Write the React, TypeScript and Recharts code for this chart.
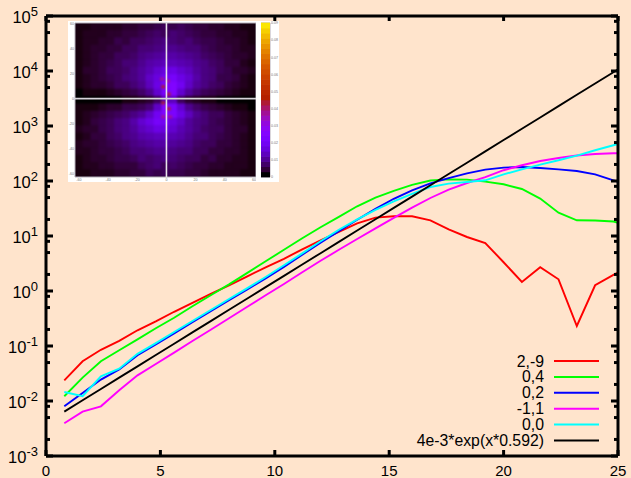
import React from "react";
import {
  LineChart, Line, XAxis, YAxis, Legend, ScatterChart, Scatter, ReferenceLine, ReferenceArea,
} from "recharts";

// ---- main chart data ----
const xs = [0.8,1.6,2.4,3.2,4,4.8,5.6,6.4,7.2,8,8.8,9.6,10.4,11.2,12,12.8,13.6,14.4,15.2,16,16.8,17.6,18.4,19.2,20,20.8,21.6,22.4,23.2,24,24.8,25.6];
const red = [0.0238,0.0527,0.0853,0.124,0.193,0.281,0.419,0.608,0.889,1.27,1.85,2.7,3.85,5.73,8.35,11.9,17,21.6,22.8,22.8,19.3,13.2,9.59,7.46,3.33,1.46,2.7,1.63,0.231,1.27,1.96,2.93];
const green = [0.0122,0.0266,0.0527,0.0835,0.132,0.21,0.326,0.527,0.835,1.32,2.14,3.47,5.61,9.08,14.4,22.3,34.7,50,66,85,102,107,106,97.5,87.1,71.6,47.9,26.6,19.3,19.1,18.3,15];
const blue = [0.00801,0.01397,0.0245,0.0375,0.0678,0.107,0.17,0.27,0.428,0.678,1.07,1.7,2.75,4.55,7.52,12.2,19.7,31.2,47.5,67.8,90.8,113,138,161,175,180,172,163,152,132,103,80];
const magenta = [0.00394,0.00641,0.00801,0.0157,0.0293,0.0471,0.0759,0.123,0.197,0.319,0.516,0.835,1.34,2.19,3.54,5.61,8.81,13.8,21.4,32.8,49.1,69.8,92,118,157,193,231,262,290,310,319,323];
const cyan = [0.0146,0.0122,0.0281,0.0388,0.0721,0.113,0.18,0.285,0.452,0.716,1.13,1.8,2.93,4.84,8.01,13,20.1,29.9,42.7,58.5,77.8,89.7,95.9,103,132,163,199,238,290,362,446,550];
const fit = [0.00642,0.0103,0.01656,0.0266,0.0427,0.0686,0.11,0.177,0.284,0.456,0.732,1.176,1.888,3.03,4.87,7.82,12.56,20.2,32.4,52,83.5,134,215,346,555,891,1431,2298,3690,5926,9516,15280];

const xTicks = [0,5,10,15,20,25];
const yMajor = [1e-3,1e-2,1e-1,1e0,1e1,1e2,1e3,1e4,1e5];
const yExponents = [-3,-2,-1,0,1,2,3,4,5];
const yMinor = [2e-3,5e-3,8e-3,2e-2,5e-2,8e-2,0.2,0.5,0.8,2,5,8,20,50,80,200,500,800,2e3,5e3,8e3,2e4,5e4,8e4];
const yTicks = [...yMajor, ...yMinor];

const seriesNames = ["2,-9","0,4","0,2","-1,1","0,0","4e-3*exp(x*0.592)"];
const seriesColors = ["#ff0000","#00ff00","#0000ff","#ff00ff","#00ffff","#000000"];
const seriesKeys = ["red","green","blue","magenta","cyan","fit"];

const table = xs.map((x, i) => ({
  x, red: red[i], green: green[i], blue: blue[i], magenta: magenta[i], cyan: cyan[i], fit: fit[i],
}));

// ---- inset: coarse reading of the heat map, in units of 0.00085 ----
const heatRows = [
  [1,1,2,2,2,2,3,3,4,4,5,6,5,6,5,4,4,3,3,2,2,1,1],
  [1,2,2,2,3,3,4,4,5,6,7,6,8,7,6,5,4,4,3,3,2,2,1],
  [1,2,2,3,3,5,4,6,6,7,8,9,8,7,8,6,5,5,4,3,3,2,1],
  [1,2,3,3,4,4,6,6,8,8,9,10,10,9,8,8,6,5,4,4,3,2,2],
  [1,2,3,4,4,6,6,7,9,10,11,12,12,11,10,9,7,6,5,4,3,3,2],
  [1,2,3,4,5,6,8,8,10,12,13,14,14,13,12,10,9,7,6,4,4,2,1],
  [1,3,3,4,6,6,7,9,11,13,16,18,19,16,14,11,9,8,6,5,3,3,2],
  [1,2,3,4,5,6,8,9,11,15,18,21,23,19,16,12,9,8,5,5,4,2,1],
  [1,2,3,3,4,6,6,8,10,14,19,25,27,21,15,11,9,7,6,4,3,2,1],
  [0,1,1,1,2,3,4,5,7,10,16,24,27,16,11,8,6,5,4,3,2,1,1],
  [0,0,0,0,0,0,1,1,2,3,6,14,14,6,3,2,1,1,0,0,0,0,0],
  [1,1,1,2,3,3,5,5,6,8,15,27,24,16,10,7,5,4,3,2,1,1,0],
  [1,2,3,4,5,6,7,9,11,15,21,27,25,19,14,10,8,6,6,4,3,2,1],
  [1,2,4,5,6,8,9,12,16,19,23,22,18,15,11,9,8,6,5,4,3,2,1],
  [2,3,3,5,6,8,9,11,14,16,19,18,16,13,11,9,7,6,6,4,3,3,1],
  [1,2,4,4,6,7,9,10,12,13,14,14,13,12,10,8,8,6,5,4,3,2,1],
  [2,3,3,4,5,6,7,9,10,11,12,12,11,10,9,7,6,6,4,4,3,2,1],
  [2,2,3,4,4,5,6,8,8,9,10,10,9,8,8,6,6,4,4,3,3,2,1],
  [1,2,3,3,4,5,5,6,8,7,8,9,8,7,6,6,4,5,3,3,2,2,1],
  [1,2,2,3,3,4,4,4,6,7,8,6,7,6,5,4,4,3,3,2,2,2,1],
  [1,1,2,2,2,3,3,4,4,6,5,6,5,5,4,4,3,2,2,2,2,1,1],
];
const heatCells = heatRows.flatMap((row, r) => row.map((v, c) => ({ c, r, v: v * 0.00085 })));
// small hot spots next to the centre, in the same column/row units
const specks = [
  { c: 10.55, r: 7.14, v: 0.036 }, { c: 11.3, r: 7.4, v: 0.036 }, { c: 10.7, r: 8.2, v: 0.042 }, { c: 11.4, r: 9.2, v: 0.042 },
  { c: 10.7, r: 10.4, v: 0.042 }, { c: 11.4, r: 11.2, v: 0.042 }, { c: 10.7, r: 12.3, v: 0.036 }, { c: 11.6, r: 12.3, v: 0.036 },
];
const insetXTicks = [-60,-40,-20,0,20,40,60];
const insetYTicks = [60,40,20,0,-20,-40,-60];
const barLevels = [0,0.003,0.006,0.009,0.012,0.015,0.018,0.021,0.024,0.027,0.03,0.033,0.036,0.039,0.042,0.045,0.048,0.051,0.054,0.057,0.06,0.063,0.066,0.069,0.072,0.075,0.078,0.081,0.084,0.087];
const barTicks = [0,0.01,0.02,0.03,0.04,0.05,0.06,0.07,0.08,0.09];
const barCells = barLevels.map((v) => ({ x: 0, y: v + 0.0015, v }));

// gnuplot's traditional pm3d palette over the 0..0.09 colour range
const palette = (v: number) => {
  const t = Math.max(0, Math.min(1, v / 0.09));
  const ch = (u: number) => Math.round(255 * Math.max(0, Math.min(1, u)));
  return `rgb(${ch(Math.sqrt(t))},${ch(t * t * t)},${ch(Math.sin(2 * Math.PI * t))})`;
};

const FONT = "'Liberation Sans', Arial, sans-serif";

const majorSet = new Set(yMajor);

const LeftTick = (p: any) => {
  const v = p.payload.value;
  const major = majorSet.has(v);
  return (
    <g>
      <line x1={p.x} x2={p.x + (major ? 7 : 4)} y1={p.y} y2={p.y} stroke="#000" strokeWidth={3} />
      {major && (
        <text x={p.x - 8} y={p.y + 7} textAnchor="end" fontFamily={FONT} fontSize={16.5} fill="#000">
          10<tspan dy={-7} fontSize={13}>{yExponents[yMajor.indexOf(v)]}</tspan>
        </text>
      )}
    </g>
  );
};
const RightTick = (p: any) => {
  const major = majorSet.has(p.payload.value);
  return <line x1={p.x} x2={p.x - (major ? 7 : 4)} y1={p.y} y2={p.y} stroke="#000" strokeWidth={3} />;
};
const BottomTick = (p: any) => (
  <g>
    <line x1={p.x} x2={p.x} y1={p.y} y2={p.y - 6} stroke="#000" strokeWidth={3} />
    <text x={p.x} y={p.y + 20} textAnchor="middle" fontFamily={FONT} fontSize={15} fill="#000">{p.payload.value}</text>
  </g>
);
const TopTick = (p: any) => <line x1={p.x} x2={p.x} y1={p.y} y2={p.y + 5} stroke="#000" strokeWidth={3} />;

const LegendBox = ({ payload }: any) => (
  <svg width={631} height={478} style={{ display: "block" }}>
    {(payload || []).map((e: any, i: number) => {
      const y = 361 + i * 15.9;
      return (
        <g key={e.value}>
          <text x={544} y={y + 5.5} textAnchor="end" fontFamily={FONT} fontSize={15.8} fill="#000">{e.value}</text>
          <line x1={554} x2={599} y1={y} y2={y} stroke={e.color} strokeWidth={2} />
        </g>
      );
    })}
  </svg>
);

const inkText = { fontSize: 3.6, fill: "#777", fontFamily: FONT };

const Inset = () => (
  <div style={{ position: "absolute", left: 68, top: 21, width: 211, height: 161, background: "#fff" }}>
    <div style={{ position: "absolute", left: 7, top: 2, width: 181, height: 154, overflow: "hidden", background: "#120016" }}>
      <div style={{ filter: "blur(1.2px)" }}>
        <ScatterChart width={181} height={154} margin={{ top: 0, right: 0, bottom: 0, left: 0 }}>
          <XAxis type="number" dataKey="c" domain={[-0.5, 22.5]} hide />
          <YAxis type="number" dataKey="r" domain={[-0.5, 20.5]} reversed hide />
          <Scatter
            data={heatCells}
            isAnimationActive={false}
            shape={(p: any) => (
              <rect x={p.cx - 4.2} y={p.cy - 3.95} width={8.4} height={7.9} fill={palette(p.payload.v)} />
            )}
          />
          <Scatter
            data={specks}
            isAnimationActive={false}
            shape={(p: any) => (
              <rect x={p.cx - 2} y={p.cy - 1.5} width={4} height={3} fill={palette(p.payload.v)} />
            )}
          />
        </ScatterChart>
      </div>
    </div>
    <div style={{ position: "absolute", left: 0, top: 0 }}>
      <ScatterChart width={188} height={161} margin={{ top: 2, right: 0, bottom: 0, left: 0 }}>
        <XAxis type="number" dataKey="x" domain={[-62.7, 61.4]} ticks={insetXTicks} height={5} interval={0}
          axisLine={false} tickLine={false} tickSize={0} tickMargin={1} tick={inkText} allowDataOverflow />
        <YAxis type="number" dataKey="y" domain={[-63, 60.8]} ticks={insetYTicks} width={7} interval={0}
          axisLine={false} tickLine={false} tickSize={0} tickMargin={1} tick={inkText} allowDataOverflow />
        <Scatter data={[]} isAnimationActive={false} />
        <ReferenceArea x1={-62.7} x2={61.4} y1={-63} y2={60.8} fill="none" stroke="#b5aeb8" strokeWidth={1} />
        <ReferenceLine x={0} stroke="#e8e4ea" strokeWidth={1.6} />
        <ReferenceLine y={0} stroke="#d8d4da" strokeWidth={1.6} />
      </ScatterChart>
    </div>
    <div style={{ position: "absolute", left: 193, top: 0 }}>
      <ScatterChart width={18} height={161} margin={{ top: 2, right: 0, bottom: 5, left: 0 }}>
        <XAxis type="number" dataKey="x" domain={[-0.5, 0.5]} hide />
        <YAxis type="number" dataKey="y" domain={[0, 0.09]} ticks={barTicks} orientation="right" width={9} interval={0}
          axisLine={false} tickLine={false} tickSize={0} tickMargin={1} tick={inkText} />
        <Scatter
          data={barCells}
          isAnimationActive={false}
          shape={(p: any) => (
            <rect x={p.cx - 4.5} y={p.cy - 2.9} width={9} height={5.8} fill={palette(p.payload.v)} />
          )}
        />
        <ReferenceArea x1={-0.5} x2={0.5} y1={0} y2={0.09} fill="none" stroke="#b5aeb8" strokeWidth={1} />
      </ScatterChart>
    </div>
  </div>
);

export default function App() {
  return (
    <div style={{ position: "absolute", left: 0, top: 0, width: 631, height: 478, background: "#ffe4cc", overflow: "hidden" }}>
      <LineChart width={631} height={478} data={table} margin={{ top: 0, right: 0, bottom: 0, left: 0 }}>
        <XAxis xAxisId="b" type="number" dataKey="x" domain={[0, 25]} ticks={xTicks} interval={0} height={22} allowDataOverflow
          axisLine={{ stroke: "#000", strokeWidth: 3 }} tickLine={false} tickSize={0} tickMargin={0} tick={BottomTick} />
        <XAxis xAxisId="t" orientation="top" type="number" dataKey="x" domain={[0, 25]} ticks={xTicks} interval={0} height={16} allowDataOverflow
          axisLine={{ stroke: "#000", strokeWidth: 3 }} tickLine={false} tickSize={0} tickMargin={0} tick={TopTick} />
        <YAxis yAxisId="l" scale="log" type="number" domain={[1e-3, 1e5]} ticks={yTicks} interval={0} width={46} allowDataOverflow
          axisLine={{ stroke: "#000", strokeWidth: 3 }} tickLine={false} tickSize={0} tickMargin={0} tick={LeftTick} />
        <YAxis yAxisId="r" orientation="right" scale="log" type="number" domain={[1e-3, 1e5]} ticks={yTicks} interval={0} width={13} allowDataOverflow
          axisLine={{ stroke: "#000", strokeWidth: 3 }} tickLine={false} tickSize={0} tickMargin={0} tick={RightTick} />
        {seriesKeys.map((k, i) => (
          <Line key={k} xAxisId="b" yAxisId="l" type="linear" dataKey={k} name={seriesNames[i]} stroke={seriesColors[i]}
            strokeWidth={1.9} dot={false} activeDot={false} isAnimationActive={false} />
        ))}
        <Legend content={LegendBox} layout="horizontal" align="center" verticalAlign="middle" itemSorter={null as any}
          wrapperStyle={{ left: 0, top: 0, bottom: "auto", width: 631, height: 478, pointerEvents: "none" }} />
      </LineChart>
      <Inset />
    </div>
  );
}
